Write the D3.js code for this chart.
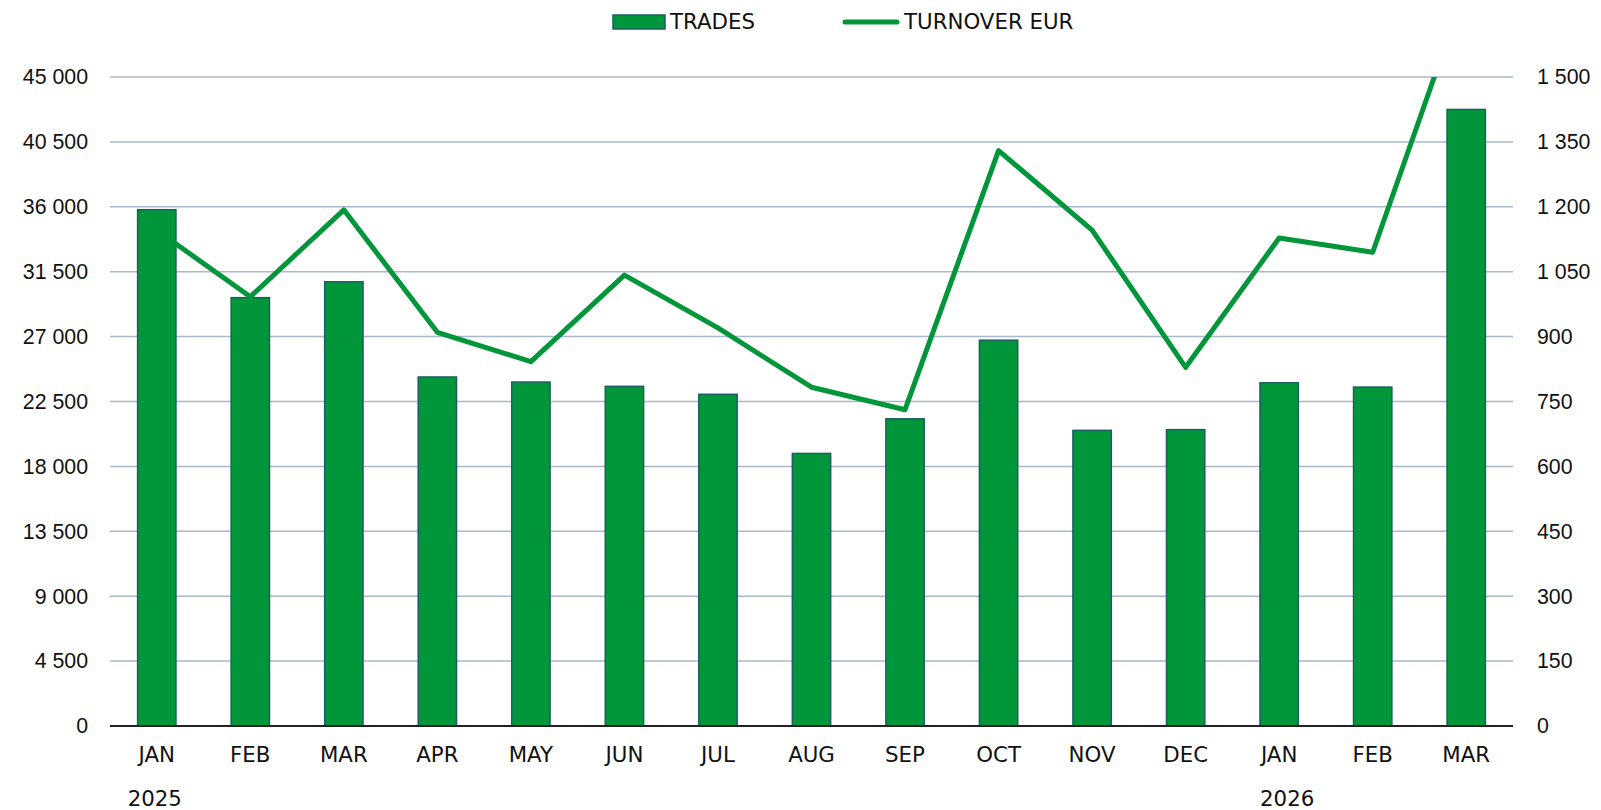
<!DOCTYPE html>
<html>
<head>
<meta charset="utf-8">
<script src="https://cdn.jsdelivr.net/npm/d3@7"></script>
<style>
  body { margin: 0; background: #fff; }
  svg { font-family: "DejaVu Sans", Verdana, sans-serif; }
</style>
</head>
<body>
<svg id="chart" width="1601" height="810"></svg>
<script>
let months = ["JAN","FEB","MAR","APR","MAY","JUN","JUL","AUG","SEP","OCT","NOV","DEC","JAN","FEB","MAR"];
let years = [{i: 0, label: "2025"}, {i: 12, label: "2026"}];
let trades = [35800, 29700, 30800, 24200, 23850, 23550, 23000, 18900, 21300, 26750, 20500, 20550, 23800, 23500, 42750];
let turnover = [1146, 992, 1193, 910, 842, 1042, 920, 783, 731, 1330, 1146, 829, 1128, 1095, 1710];
let leftTicks = [0, 4500, 9000, 13500, 18000, 22500, 27000, 31500, 36000, 40500, 45000];
let rightTicks = [0, 150, 300, 450, 600, 750, 900, 1050, 1200, 1350, 1500];

let green = "#009639";
let fontSize = 21.33;
let svg = d3.select("#chart");

let margin = {left: 110, right: 88, top: 77, bottom: 84};
let width = 1601 - margin.left - margin.right;
let height = 810 - margin.top - margin.bottom;

let g = svg.append("g").attr("transform", `translate(${margin.left},${margin.top})`);

let x = d3.scaleBand()
          .domain(d3.range(months.length))
          .range([0, width])
          .paddingInner(0.59)
          .paddingOuter(0.295);

let yL = d3.scaleLinear().domain([0, 45000]).range([height, 0]);
let yR = d3.scaleLinear().domain([0, 1500]).range([height, 0]);

let fmt = v => d3.format(",")(v).replace(/,/g, " ");

// gridlines
g.selectAll(".grid")
 .data(leftTicks.slice(1))
 .enter()
 .append("line")
 .attr("x1", 0).attr("x2", width)
 .attr("y1", d => yL(d)).attr("y2", d => yL(d))
 .attr("stroke", "#a9b8cb")
 .attr("stroke-width", 1.5);

// left axis
let leftAxis = d3.axisLeft(yL).tickValues(leftTicks).tickFormat(fmt).tickSize(0).tickPadding(22);
g.append("g").call(leftAxis)
 .call(a => a.select(".domain").remove())
 .selectAll("text").attr("font-size", fontSize).attr("fill", "#111");

// right axis
let rightAxis = d3.axisRight(yR).tickValues(rightTicks).tickFormat(fmt).tickSize(0).tickPadding(24);
g.append("g").attr("transform", `translate(${width},0)`).call(rightAxis)
 .call(a => a.select(".domain").remove())
 .selectAll("text").attr("font-size", fontSize).attr("fill", "#111");

// bars
g.selectAll(".bar")
 .data(trades)
 .enter()
 .append("rect")
 .attr("x", (d, i) => x(i))
 .attr("y", d => yL(d))
 .attr("width", x.bandwidth())
 .attr("height", d => height - yL(d))
 .attr("fill", green)
 .attr("stroke", "#1b5e63")
 .attr("stroke-width", 1.5);

// baseline
g.append("line")
 .attr("x1", 0).attr("x2", width)
 .attr("y1", height).attr("y2", height)
 .attr("stroke", "#222")
 .attr("stroke-width", 2);

// turnover line, clipped to the plot area
svg.append("defs").append("clipPath").attr("id", "plotclip")
   .append("rect").attr("x", 0).attr("y", 0).attr("width", width).attr("height", height);

let line = d3.line()
             .x((d, i) => x(i) + x.bandwidth() / 2)
             .y(d => yR(d));

g.append("path")
 .datum(turnover)
 .attr("clip-path", "url(#plotclip)")
 .attr("d", line)
 .attr("fill", "none")
 .attr("stroke", green)
 .attr("stroke-width", 5)
 .attr("stroke-linejoin", "round");

// month labels
g.selectAll(".month")
 .data(months)
 .enter()
 .append("text")
 .attr("x", (d, i) => x(i) + x.bandwidth() / 2)
 .attr("y", height + 36)
 .attr("text-anchor", "middle")
 .attr("font-size", fontSize)
 .attr("fill", "#111")
 .text(d => d);

// year labels
g.selectAll(".year")
 .data(years)
 .enter()
 .append("text")
 .attr("x", d => x(d.i) + x.bandwidth() / 2 + (d.i ? 8 : -2))
 .attr("y", height + 80)
 .attr("text-anchor", "middle")
 .attr("font-size", fontSize)
 .attr("fill", "#111")
 .text(d => d.label);

// legend
let legend = svg.append("g");
legend.append("rect")
      .attr("x", 613).attr("y", 15).attr("width", 52).attr("height", 14)
      .attr("fill", green).attr("stroke", "#1b5e63").attr("stroke-width", 1.5);
legend.append("text")
      .attr("x", 670).attr("y", 29).attr("font-size", fontSize).attr("fill", "#111")
      .text("TRADES");
legend.append("line")
      .attr("x1", 845).attr("x2", 897).attr("y1", 22).attr("y2", 22)
      .attr("stroke", green).attr("stroke-width", 5).attr("stroke-linecap", "round");
legend.append("text")
      .attr("x", 904).attr("y", 29).attr("font-size", fontSize).attr("fill", "#111")
      .text("TURNOVER EUR");
</script>
</body>
</html>
